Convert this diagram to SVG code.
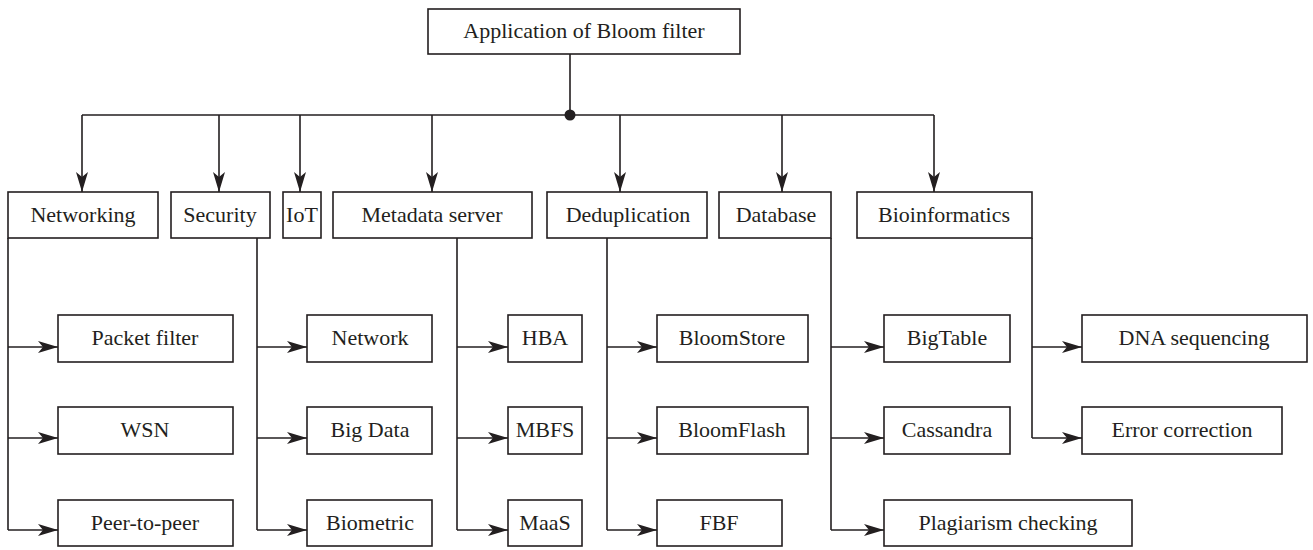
<svg xmlns="http://www.w3.org/2000/svg" width="1313" height="550" viewBox="0 0 1313 550">
<style>
.box{fill:#fff;stroke:#231f20;stroke-width:1.6}
.t{font-family:"Liberation Serif",serif;font-size:22px;fill:#231f20;text-anchor:middle}
.c{fill:none;stroke:#231f20;stroke-width:1.6}
.a{marker-end:url(#ah)}
</style>
<defs>
<marker id="ah" markerUnits="userSpaceOnUse" markerWidth="22" markerHeight="14" refX="20" refY="7" orient="auto">
<path d="M0,1 L20,7 L0,13 L5,7 Z" fill="#231f20"/>
</marker>
</defs>
<rect width="1313" height="550" fill="#fff"/>
<g id="connectors">
<path class="c" d="M570,54 V115 M82,115 H934"/>
<circle cx="570" cy="115" r="5.5" fill="#231f20"/>
<path class="c a" d="M82,115 V192"/>
<path class="c a" d="M219,115 V192"/>
<path class="c a" d="M300,115 V192"/>
<path class="c a" d="M432,115 V192"/>
<path class="c a" d="M620,115 V192"/>
<path class="c a" d="M782,115 V192"/>
<path class="c a" d="M934,115 V192"/>
<path class="c" d="M8,238 V530"/>
<path class="c a" d="M8,347 H58"/>
<path class="c a" d="M8,438 H58"/>
<path class="c a" d="M8,530 H58"/>
<path class="c" d="M257,238 V530"/>
<path class="c a" d="M257,347 H307"/>
<path class="c a" d="M257,438 H307"/>
<path class="c a" d="M257,530 H307"/>
<path class="c" d="M457,238 V530"/>
<path class="c a" d="M457,347 H508"/>
<path class="c a" d="M457,438 H508"/>
<path class="c a" d="M457,530 H508"/>
<path class="c" d="M607,238 V530"/>
<path class="c a" d="M607,347 H657"/>
<path class="c a" d="M607,438 H657"/>
<path class="c a" d="M607,530 H657"/>
<path class="c" d="M831,238 V530"/>
<path class="c a" d="M831,347 H884"/>
<path class="c a" d="M831,438 H884"/>
<path class="c a" d="M831,530 H884"/>
<path class="c" d="M1032,238 V438"/>
<path class="c a" d="M1032,347 H1082"/>
<path class="c a" d="M1032,438 H1082"/>
</g>
<g id="root"><rect class="box" x="428" y="9" width="312" height="45"/><text class="t" x="584" y="38">Application of Bloom filter</text></g>
<g id="networking"><rect class="box" x="8" y="192" width="150" height="46"/><text class="t" x="83" y="222">Networking</text></g>
<g id="security"><rect class="box" x="171" y="192" width="99" height="46"/><text class="t" x="220" y="222">Security</text></g>
<g id="iot"><rect class="box" x="283" y="192" width="38" height="46"/><text class="t" x="302" y="222">IoT</text></g>
<g id="metadata"><rect class="box" x="333" y="192" width="199" height="46"/><text class="t" x="432" y="222">Metadata server</text></g>
<g id="dedup"><rect class="box" x="547" y="192" width="160" height="46"/><text class="t" x="628" y="222">Deduplication</text></g>
<g id="database"><rect class="box" x="719" y="192" width="112" height="46"/><text class="t" x="776" y="222">Database</text></g>
<g id="bioinfo"><rect class="box" x="857" y="192" width="175" height="46"/><text class="t" x="944" y="222">Bioinformatics</text></g>
<g id="packet"><rect class="box" x="58" y="315" width="175" height="47"/><text class="t" x="145" y="345">Packet filter</text></g>
<g id="wsn"><rect class="box" x="58" y="407" width="175" height="47"/><text class="t" x="145" y="437">WSN</text></g>
<g id="p2p"><rect class="box" x="58" y="500" width="175" height="46"/><text class="t" x="145" y="530">Peer-to-peer</text></g>
<g id="network"><rect class="box" x="307" y="315" width="125" height="47"/><text class="t" x="370" y="345">Network</text></g>
<g id="bigdata"><rect class="box" x="307" y="407" width="125" height="47"/><text class="t" x="370" y="437">Big Data</text></g>
<g id="biometric"><rect class="box" x="307" y="500" width="125" height="46"/><text class="t" x="370" y="530">Biometric</text></g>
<g id="hba"><rect class="box" x="508" y="315" width="74" height="47"/><text class="t" x="545" y="345">HBA</text></g>
<g id="mbfs"><rect class="box" x="508" y="407" width="74" height="47"/><text class="t" x="545" y="437">MBFS</text></g>
<g id="maas"><rect class="box" x="508" y="500" width="74" height="46"/><text class="t" x="545" y="530">MaaS</text></g>
<g id="bloomstore"><rect class="box" x="657" y="315" width="151" height="47"/><text class="t" x="732" y="345">BloomStore</text></g>
<g id="bloomflash"><rect class="box" x="657" y="407" width="151" height="47"/><text class="t" x="732" y="437">BloomFlash</text></g>
<g id="fbf"><rect class="box" x="657" y="500" width="125" height="46"/><text class="t" x="719" y="530">FBF</text></g>
<g id="bigtable"><rect class="box" x="884" y="315" width="126" height="47"/><text class="t" x="947" y="345">BigTable</text></g>
<g id="cassandra"><rect class="box" x="884" y="407" width="126" height="47"/><text class="t" x="947" y="437">Cassandra</text></g>
<g id="plagiarism"><rect class="box" x="884" y="500" width="248" height="46"/><text class="t" x="1008" y="530">Plagiarism checking</text></g>
<g id="dna"><rect class="box" x="1082" y="315" width="225" height="47"/><text class="t" x="1194" y="345">DNA sequencing</text></g>
<g id="errcorr"><rect class="box" x="1082" y="407" width="200" height="47"/><text class="t" x="1182" y="437">Error correction</text></g>
</svg>
